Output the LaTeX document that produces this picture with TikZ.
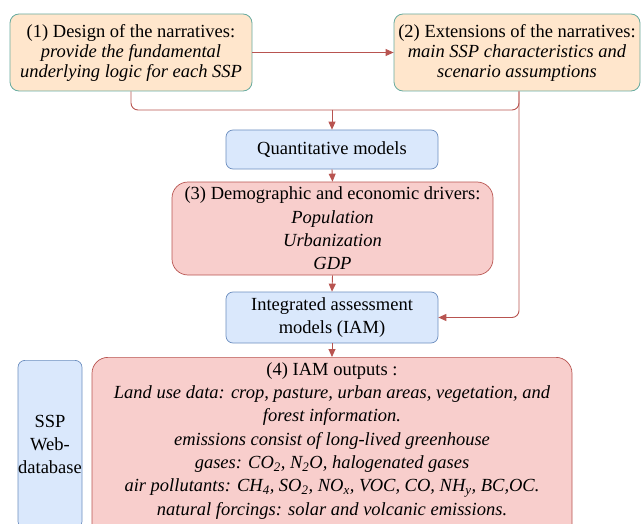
\documentclass[tikz,border=0pt]{standalone}
\usepackage{fontspec}
\setmainfont{Liberation Serif}
\usetikzlibrary{arrows.meta, positioning}
\definecolor{myorange}{HTML}{FFE6CC}
\definecolor{myteal}{HTML}{67AB9F}
\definecolor{myblue}{HTML}{DAE8FC}
\definecolor{myblueline}{HTML}{6C8EBF}
\definecolor{myred}{HTML}{F8CECC}
\definecolor{myredline}{HTML}{B85450}
\newcommand{\boxfont}{\fontsize{18.5}{23.3}\selectfont}
\newcommand{\narrfont}{\fontsize{18.5}{20}\selectfont}
\tikzset{
  narrative/.style={draw=myteal, fill=myorange, rounded corners=9pt, line width=0.8pt,
    align=center, font=\narrfont, minimum height=77pt, inner sep=0pt},
  model/.style={draw=myblueline, fill=myblue, rounded corners=7pt, line width=0.7pt,
    align=center, font=\boxfont, minimum width=212pt, inner sep=0pt},
  driver/.style={draw=myredline, fill=myred, rounded corners=16pt, line width=0.7pt,
    align=center, font=\boxfont, inner sep=0pt},
  link/.style={draw=myredline, line width=0.9pt, rounded corners=7pt,
    -{Triangle[length=8pt, width=7pt]}},
  plain/.style={draw=myredline, line width=0.9pt, rounded corners=7pt}
}

\begin{document}
\begin{tikzpicture}[x=1pt, y=-1pt]
    \useasboundingbox (0,0) rectangle (642,524);
    \clip (0,0) rectangle (642,524);
    % narratives
    \node[narrative, minimum width=242pt] (design) at (131, 52.5)
      {(1) Design of the narratives:\\ \textit{provide the fundamental}\\ \textit{underlying logic for each SSP}};
    \node[narrative, minimum width=246pt] (extend) at (517, 52.5)
      {(2) Extensions of the narratives:\\ \textit{main SSP characteristics and}\\ \textit{scenario assumptions}};
    % models and drivers
    \node[model, minimum height=39pt] (quant) at (332, 149.5) {Quantitative models};
    \node[driver, minimum width=321pt, minimum height=93pt] (drivers) at (332.5, 228.5)
      {(3) Demographic and economic drivers:\\ \textit{Population}\\ \textit{Urbanization}\\ \textit{GDP}};
    \node[model, minimum height=51pt] (iam) at (332, 317.5) {Integrated assessment\\ models (IAM)};
    % outputs
    \node[driver, anchor=north, minimum width=480pt, minimum height=190pt, text depth=0pt,
      inner ysep=0pt] (outputs) at (332, 357)
      {\rule{0pt}{18pt}(4) IAM outputs :\\
       \textit{Land use data: crop, pasture, urban areas, vegetation, and}\\
       \textit{forest information.}\\
       \textit{emissions consist of long-lived greenhouse}\\
       \textit{gases: CO\textsubscript{2}, N\textsubscript{2}O, halogenated gases}\\
       \textit{air pollutants: CH\textsubscript{4}, SO\textsubscript{2}, NO\textsubscript{x}, VOC, CO, NH\textsubscript{y}, BC,OC.}\\
       \textit{natural forcings: solar and volcanic emissions.}\\[20pt]};
    \node[model, minimum width=64pt, minimum height=168pt, anchor=north] (web) at (50, 360)
      {SSP\\ Web-\\ database};
    % connectors
    \coordinate (join) at (332, 110);
    \draw[link] (design.east) -- (extend.west);
    \draw[plain] (design.south) |- (join);
    \draw[plain] ([xshift=2pt]extend.south) |- (join);
    \draw[link] (join) -- (quant.north);
    \draw[link] ([xshift=2pt]extend.south) |- (iam.east);
    \draw[link] (quant.south) -- (drivers.north);
    \draw[link] (drivers.south) -- (iam.north);
    \draw[link] (iam.south) -- (outputs.north);
\end{tikzpicture}
\end{document}
